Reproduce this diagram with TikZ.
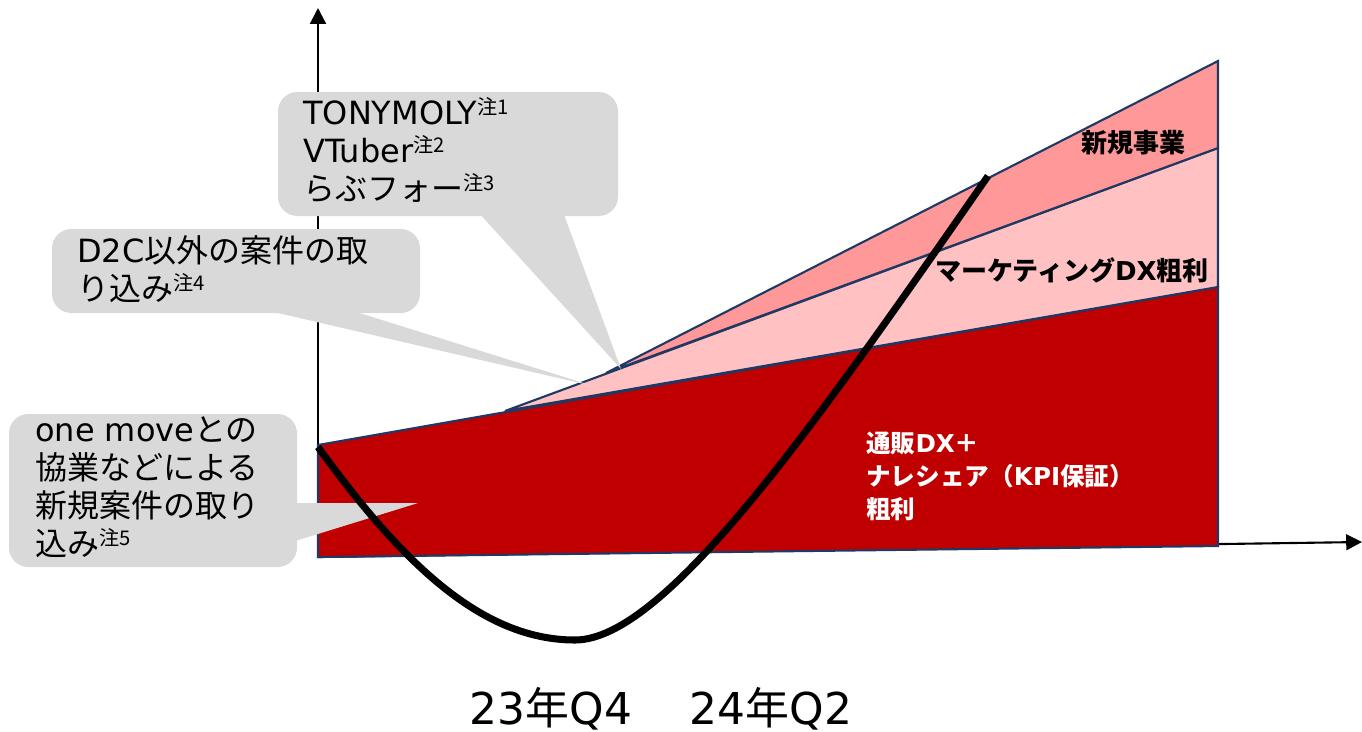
\documentclass[tikz,border=0pt]{standalone}
\usepackage{fontspec}
\setmainfont{Noto Sans CJK JP}
\newfontfamily\lat{DejaVu Sans}
\usetikzlibrary{arrows.meta,fit}
\definecolor{darkred}{HTML}{C00000}
\definecolor{pinkA}{HTML}{FFC1C1}
\definecolor{salmonA}{HTML}{FF9999}
\definecolor{navyA}{HTML}{1F3864}
\definecolor{callgray}{HTML}{D9D9D9}
\newcommand\chu[1]{\raisebox{5.5pt}{\fontsize{11.5pt}{12pt}\selectfont 注#1}}
\begin{document}
\begin{tikzpicture}[x=0.02cm,y=-0.02cm,
  axis/.style={line width=1.2pt,-{Triangle[width=9pt,length=9pt]}},
  band/.style={draw=navyA,line width=1.2pt,line join=miter},
  callbox/.style={fill=callgray,rounded corners=11pt,inner sep=0pt},
  calltail/.style={fill=callgray},
  calltext/.style={anchor=base west,align=left,inner sep=0pt,font=\fontsize{18.2pt}{21.6pt}\selectfont},
  lbl/.style={inner sep=0pt,font=\bfseries\fontsize{14.8pt}{18pt}\selectfont},
  wlbl/.style={anchor=base west,align=left,inner sep=0pt,text=white,font=\bfseries\fontsize{14pt}{18.7pt}\selectfont},
  ticklbl/.style={anchor=base,inner sep=0pt,font=\fontsize{25pt}{28pt}\selectfont},
  trend/.style={line width=4pt,black}]
\useasboundingbox (0,0) rectangle (1362,731);
% axes
\coordinate (O) at (318,557);
\coordinate (Ytop) at (318,8);
\coordinate (Xend) at (1362,542);
\draw[axis] (O) -- (Ytop);
\draw[axis] (O) -- (Xend);
% bands
\coordinate (R1) at (318,445);
\coordinate (R2) at (1218,287);
\coordinate (R3) at (1218,546);
\coordinate (R4) at (318,557);
\coordinate (P1) at (505,411);
\coordinate (P2) at (1218,148);
\coordinate (S1) at (606,373);
\coordinate (S2) at (1218,61);
\filldraw[band,fill=darkred] (R1) -- (R2) -- (R3) -- (R4) -- cycle;
\filldraw[band,fill=pinkA] (P1) -- (P2) -- (R2) -- cycle;
\filldraw[band,fill=salmonA] (S1) -- (S2) -- (P2) -- cycle;
% callout 1
\coordinate (b1a) at (278,92);
\coordinate (b1b) at (618,216);
\coordinate (t1) at (621,369);
\fill[calltail] (478,212) -- (t1) -- (563,212) -- cycle;
\node[callbox,fit=(b1a)(b1b)] (box1) {};
\node[calltext] (txt1) at (303,200) {{\lat TONYMOLY}\chu{1}\\{\lat VTuber}\chu{2}\\らぶフォー\chu{3}};
% callout 2
\coordinate (b2a) at (52,229);
\coordinate (b2b) at (420,313);
\coordinate (t2) at (593,386);
\fill[calltail] (265,310) -- (t2) -- (350,310) -- cycle;
\node[callbox,fit=(b2a)(b2b)] (box2) {};
\node[calltext] (txt2) at (77,300) {{\lat D2C}以外の案件の取\\り込み\chu{4}};
% callout 3
\coordinate (b3a) at (9,414);
\coordinate (b3b) at (297,567);
\coordinate (t3) at (418,503);
\fill[calltail] (292,503) -- (t3) -- (292,542) -- cycle;
\node[callbox,fit=(b3a)(b3b)] (box3) {};
\node[calltext] (txt3) at (35,555) {{\lat one move}との\\協業などによる\\新規案件の取り\\込み\chu{5}};
% trend curve
\draw[trend] (318,447) .. controls (400,560) and (480,640) .. (575,640)
  .. controls (665,640) and (815,425) .. (988,176);
% band labels
\node[lbl] (lnew) at (1133,143) {新規事業};
\node[lbl] (lmkt) at (1072,270) {マーケティング{\lat DX}粗利};
\node[wlbl] (lmail) at (866,518) {通販{\lat DX}＋\\ナレシェア（{\lat KPI}保証）\\粗利};
% axis labels
\node[ticklbl] (q1) at (551,724) {{\lat 23}年{\lat Q4}};
\node[ticklbl] (q2) at (771,724) {{\lat 24}年{\lat Q2}};
\end{tikzpicture}
\end{document}
